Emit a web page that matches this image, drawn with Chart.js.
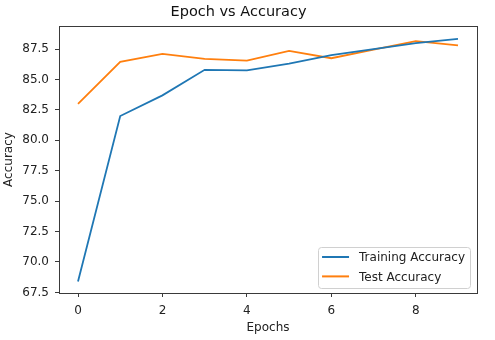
<!DOCTYPE html>
<html>
<head>
<meta charset="utf-8">
<title>Epoch vs Accuracy</title>
<script src="https://cdn.jsdelivr.net/npm/chart.js@4/dist/chart.umd.min.js"></script>
<style>
  html, body { margin: 0; padding: 0; background: #fff; }
  canvas { display: block; }
</style>
</head>
<body>
<canvas id="accuracyChart" width="495" height="340"></canvas>
<script>
// Accuracy per epoch
const epochs = [0, 1, 2, 3, 4, 5, 6, 7, 8, 9];
const trainingAccuracy = [68.4, 82.0, 83.7, 85.8, 85.75, 86.3, 87.0, 87.5, 88.0, 88.35];
const testAccuracy = [83.0, 86.45, 87.1, 86.7, 86.55, 87.35, 86.75, 87.45, 88.15, 87.8];
const xTicks = [0, 2, 4, 6, 8];
const yTicks = [67.5, 70.0, 72.5, 75.0, 77.5, 80.0, 82.5, 85.0, 87.5];

const FONT = '"DejaVu Sans", sans-serif';
const AXIS_COLOR = '#3a3a3a';

// box round the plot area (all four spines)
const frame = {
    id: 'frame',
    afterDatasetsDraw(chart) {
        const { ctx, chartArea: a } = chart;
        ctx.save();
        ctx.strokeStyle = AXIS_COLOR;
        ctx.lineWidth = 1;
        ctx.strokeRect(Math.round(a.left) + 0.5, Math.round(a.top) + 0.5,
            Math.round(a.right - a.left), Math.round(a.bottom - a.top));
        ctx.restore();
    }
};

// legend in the lower right corner of the plot
const cornerLegend = {
    id: 'cornerLegend',
    afterDraw(chart) {
        const { ctx, chartArea: a } = chart;
        const sets = chart.data.datasets;
        ctx.save();
        ctx.font = '12px ' + FONT;
        const textW = Math.max(...sets.map(d => ctx.measureText(d.label).width));
        const rowH = 19.4, pad = 4, lineLen = 27, gap = 10;
        const w = pad + lineLen + gap + textW + 5;
        const h = rowH * (sets.length - 1) + 21.6;
        const x = a.right - 7 - w;
        const y = a.bottom - 5 - h;
        ctx.fillStyle = 'rgba(255,255,255,0.85)';
        ctx.strokeStyle = '#d0d0d0';
        ctx.lineWidth = 1;
        ctx.beginPath();
        ctx.roundRect(Math.round(x) + 0.5, Math.round(y) + 0.5, Math.round(w), Math.round(h), 3);
        ctx.fill();
        ctx.stroke();
        ctx.textBaseline = 'middle';
        sets.forEach((d, i) => {
            const cy = y + 10 + rowH * i;
            ctx.strokeStyle = d.borderColor;
            ctx.lineWidth = 2;
            ctx.beginPath();
            ctx.moveTo(x + pad, cy);
            ctx.lineTo(x + pad + lineLen, cy);
            ctx.stroke();
            ctx.fillStyle = '#222';
            ctx.fillText(d.label, x + pad + lineLen + gap, cy + 1);
        });
        ctx.restore();
    }
};

new Chart(document.getElementById('accuracyChart').getContext('2d'), {
    type: 'line',
    data: {
        labels: epochs,
        datasets: [{
            label: 'Training Accuracy',
            data: epochs.map((e, i) => ({ x: e, y: trainingAccuracy[i] })),
            borderColor: '#1f77b4',
            borderWidth: 1.8,
            pointRadius: 0,
            tension: 0,
            fill: false
        }, {
            label: 'Test Accuracy',
            data: epochs.map((e, i) => ({ x: e, y: testAccuracy[i] })),
            borderColor: '#ff7f0e',
            borderWidth: 1.8,
            pointRadius: 0,
            tension: 0,
            fill: false
        }]
    },
    options: {
        responsive: false,
        animation: false,
        layout: { padding: { left: 0, right: 18, top: 0, bottom: 0 } },
        plugins: {
            legend: { display: false },
            tooltip: { enabled: false },
            title: {
                display: true,
                text: 'Epoch vs Accuracy',
                color: '#111',
                font: { family: FONT, size: 14.5, weight: 'normal' },
                padding: { top: 4, bottom: 4.6 }
            }
        },
        scales: {
            x: {
                type: 'linear',
                min: -0.45,
                max: 9.45,
                afterBuildTicks: scale => { scale.ticks = xTicks.map(v => ({ value: v })); },
                afterFit: scale => { scale.height = 47; },
                border: { display: false },
                grid: { drawOnChartArea: false, drawTicks: true, tickLength: 4, color: AXIS_COLOR },
                ticks: {
                    color: '#222',
                    padding: 7,
                    maxRotation: 0,
                    font: { family: FONT, size: 12 },
                    callback: v => String(v)
                },
                title: {
                    display: true,
                    text: 'Epochs',
                    color: '#222',
                    font: { family: FONT, size: 12 },
                    padding: { top: 0, bottom: 5 }
                }
            },
            y: {
                min: 67.45,
                max: 89.4,
                afterBuildTicks: scale => { scale.ticks = yTicks.map(v => ({ value: v })); },
                afterFit: scale => { scale.width = 59; },
                border: { display: false },
                grid: { drawOnChartArea: false, drawTicks: true, tickLength: 4, color: AXIS_COLOR },
                ticks: {
                    color: '#222',
                    padding: 6,
                    font: { family: FONT, size: 12 },
                    callback: v => v.toFixed(1)
                },
                title: {
                    display: true,
                    text: 'Accuracy',
                    color: '#222',
                    font: { family: FONT, size: 12 },
                    padding: { top: 2, bottom: 0 }
                }
            }
        }
    },
    plugins: [frame, cornerLegend]
});
</script>
</body>
</html>
